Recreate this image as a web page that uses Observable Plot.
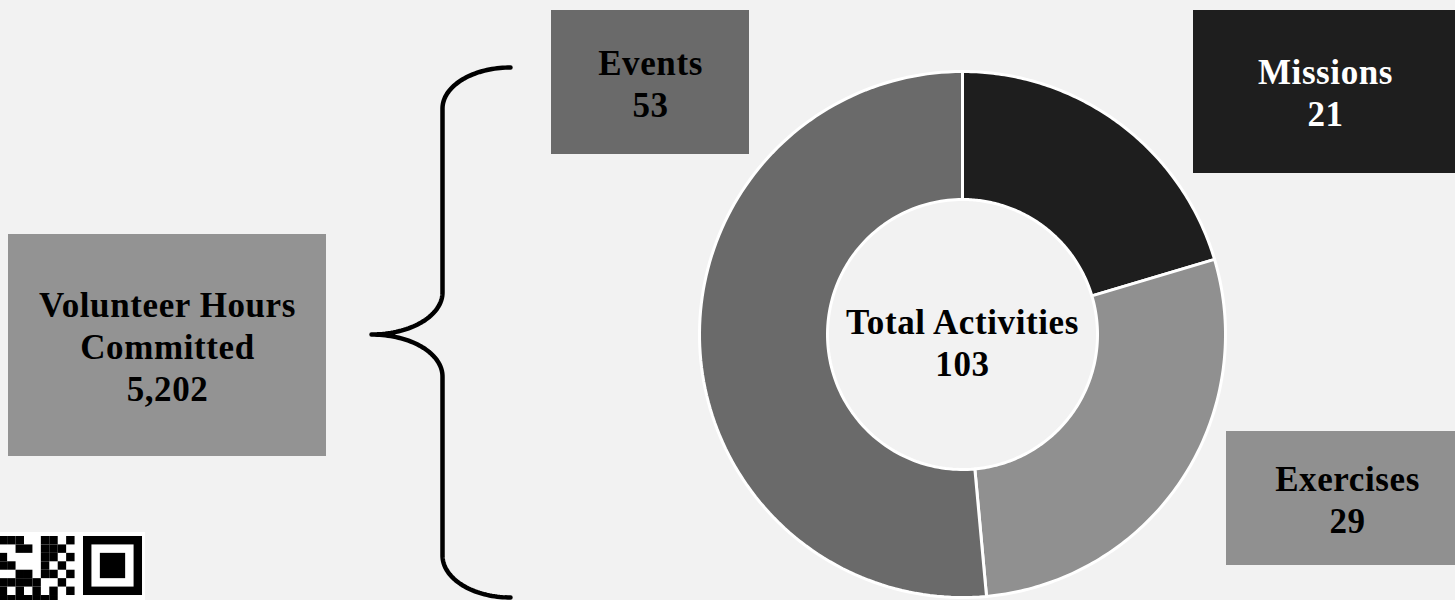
<!DOCTYPE html>
<html>
<head>
<meta charset="utf-8">
<script src="https://cdn.jsdelivr.net/npm/d3@7"></script>
<script src="https://cdn.jsdelivr.net/npm/@observablehq/plot@0.6"></script>
<style>
  html, body { margin: 0; padding: 0; background: #f2f2f2; overflow: hidden; }
  #chart svg { display: block; }
  #chart svg text { letter-spacing: 0.6px; }
</style>
</head>
<body>
<div id="chart"></div>
<script>
// ---- data ----
const categories = ["Missions", "Exercises", "Events"];
const values = [21, 29, 53];
const sliceColors = ["#1e1e1e", "#909090", "#6a6a6a"];
const centerTitle = "Total Activities";
const hoursLabel = "Volunteer Hours\nCommitted";
const hoursValue = [5202];
// QR code modules (row, col) left of the finder pattern
const qrModules = [
  [0,-10],[0,-9],[0,-8],[0,-5],[0,-4],[0,-2],
  [1,-8],[1,-7],[1,-5],[1,-4],[1,-3],
  [2,-10],[2,-5],[2,-4],[2,-2],
  [3,-10],[3,-9],[3,-5],[3,-3],
  [4,-8],[4,-7],[4,-5],[4,-4],[4,-2],
  [5,-10],[5,-9],[5,-8],[5,-7],[5,-6],[5,-3],
  [6,-10],[6,-8],[6,-6],[6,-4],[6,-2],
  [7,-10],[7,-9],[7,-8],[7,-7],[7,-6],[7,-5],[7,-4]
];

// ---- layout ----
const W = 1455, H = 600;
const donut = {cx: 962, cy: 334, r0: 135, r1: 263};
const fmt = d3.format(",");
const boxLayout = {
  Events:    {x1: 551, x2: 749, y1: 10, y2: 154, fill: "#6a6a6a", text: "#000"},
  Missions:  {x1: 1193, x2: 1457, y1: 10, y2: 173, fill: "#1e1e1e", text: "#fff"},
  Exercises: {x1: 1226, x2: 1468, y1: 431, y2: 565, fill: "#909090", text: "#000"}
};
const hoursBox = {x1: 8, x2: 326, y1: 234, y2: 456, fill: "#939393", text: "#000"};

const boxes = categories.map((c, i) => ({
  ...boxLayout[c], label: c + "\n" + values[i]
}));
boxes.push({...hoursBox, label: hoursLabel + "\n" + fmt(hoursValue[0])});

// donut geometry via d3.pie
const arcs = d3.pie().sort(null).value(d => d)(values);
const ringPts = [];
arcs.forEach((a, i) => {
  const n = 120;
  for (let k = 0; k <= n; k++) {
    const t = a.startAngle + (a.endAngle - a.startAngle) * k / n;
    ringPts.push({s: i, fill: sliceColors[i], x: donut.cx + donut.r1 * Math.sin(t), y: donut.cy - donut.r1 * Math.cos(t)});
  }
  for (let k = n; k >= 0; k--) {
    const t = a.startAngle + (a.endAngle - a.startAngle) * k / n;
    ringPts.push({s: i, fill: sliceColors[i], x: donut.cx + donut.r0 * Math.sin(t), y: donut.cy - donut.r0 * Math.cos(t)});
  }
});

// curly brace geometry
const brace = {xEnd: 510, xMid: 442, xTip: 371, yTop: 67, yV1: 108, yV2: 292, yTip: 334, yV3: 376, yV4: 555, yBot: 597};
function ell(cx, cy, rx, ry, a0, a1, n = 40) {
  const out = [];
  for (let k = 0; k <= n; k++) {
    const t = (a0 + (a1 - a0) * k / n) * Math.PI / 180;
    out.push({x: cx + rx * Math.cos(t), y: cy + ry * Math.sin(t)});
  }
  return out;
}
const b = brace;
const bracePts = [
  ...ell(b.xEnd, b.yV1, b.xEnd - b.xMid, b.yV1 - b.yTop, 270, 180),
  ...ell(b.xTip, b.yV2, b.xMid - b.xTip, b.yTip - b.yV2, 0, 90),
  ...ell(b.xTip, b.yV3, b.xMid - b.xTip, b.yV3 - b.yTip, 270, 360),
  ...ell(b.xEnd, b.yV4, b.xEnd - b.xMid, b.yBot - b.yV4, 180, 90)
];

// QR
const qr = {x0: 83, y0: 536, m: 8.43};
const qrRects = qrModules.map(([r, c]) => ({x1: qr.x0 + c * qr.m, x2: qr.x0 + (c + 1) * qr.m, y1: qr.y0 + r * qr.m, y2: qr.y0 + (r + 1) * qr.m, fill: "#000"}));
const finder = [
  {x1: qr.x0, x2: qr.x0 + 7 * qr.m, y1: qr.y0, y2: qr.y0 + 7 * qr.m, fill: "#000"},
  {x1: qr.x0 + qr.m, x2: qr.x0 + 6 * qr.m, y1: qr.y0 + qr.m, y2: qr.y0 + 6 * qr.m, fill: "#fff"},
  {x1: qr.x0 + 2 * qr.m, x2: qr.x0 + 5 * qr.m, y1: qr.y0 + 2 * qr.m, y2: qr.y0 + 5 * qr.m, fill: "#000"}
];
const qrBg = [{x1: 0, x2: 145, y1: 532, y2: 610, fill: "#fff"}];

const font = "'Liberation Serif', 'Times New Roman', serif";

const chart = Plot.plot({
  width: W, height: H, margin: 0,
  x: {domain: [0, W], range: [0, W], axis: null},
  y: {domain: [0, H], range: [0, H], axis: null},
  color: {type: "identity"},
  style: {background: "#f2f2f2", fontFamily: font},
  marks: [
    Plot.rect(qrBg, {x1: "x1", x2: "x2", y1: "y1", y2: "y2", fill: "fill"}),
    Plot.rect(qrRects, {x1: "x1", x2: "x2", y1: "y1", y2: "y2", fill: "fill"}),
    Plot.rect(finder, {x1: "x1", x2: "x2", y1: "y1", y2: "y2", fill: "fill"}),
    Plot.rect(boxes, {x1: "x1", x2: "x2", y1: "y1", y2: "y2", fill: "fill"}),
    Plot.text(boxes, {x: d => (d.x1 + d.x2) / 2, y: d => (d.y1 + d.y2) / 2, text: "label", fill: "text",
      fontSize: 35, fontWeight: "bold", lineHeight: 1.2, fontFamily: font}),
    Plot.line(ringPts, {x: "x", y: "y", z: "s", fill: "fill", stroke: "#ffffff", strokeWidth: 3, curve: "linear-closed"}),
    Plot.text([centerTitle + "\n" + d3.sum(values)], {x: donut.cx, y: donut.cy + 7, text: d => d,
      fontSize: 35, fontWeight: "bold", lineHeight: 1.2, fill: "#000", fontFamily: font}),
    Plot.line(bracePts, {x: "x", y: "y", stroke: "#000", strokeWidth: 4.5, strokeLinecap: "round", strokeLinejoin: "round"})
  ]
});
document.getElementById("chart").appendChild(chart);
</script>
</body>
</html>
